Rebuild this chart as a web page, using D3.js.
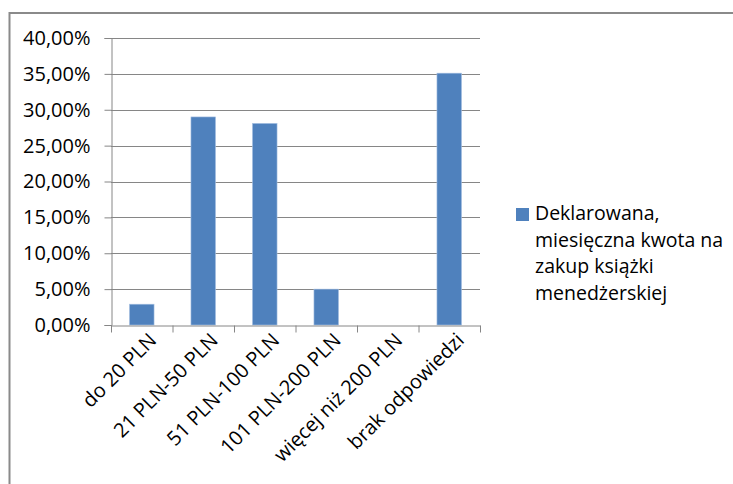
<!DOCTYPE html>
<html><head><meta charset="utf-8">
<script src="https://cdn.jsdelivr.net/npm/d3@7"></script>
<style>body{margin:0;background:#fff}svg{display:block}text{font-family:"Open Sans","Liberation Sans",sans-serif;fill:#000}</style>
</head><body>
<svg id="c" width="733" height="484"></svg>
<script>
const categories = ["do 20 PLN","21 PLN-50 PLN","51 PLN-100 PLN","101 PLN-200 PLN","więcej niż 200 PLN","brak odpowiedzi"];
const values = [0.029, 0.29, 0.281, 0.05, 0, 0.351];
const yTicks = [0,0.05,0.10,0.15,0.20,0.25,0.30,0.35,0.40];
const legendLines = ["Deklarowana,","miesięczna kwota na","zakup książki","menedżerskiej"];

const svg = d3.select("#c");
svg.append("path").attr("d","M9.5,484 L9.5,13 L733,13").attr("fill","none").attr("stroke","#8a8a8a").attr("stroke-width",2);

const x = d3.scaleBand().domain(categories).range([111,480]).paddingInner(0.6).paddingOuter(0.3);
const y = d3.scaleLinear().domain([0,0.40]).range([325,38]);
const fmt = v => d3.format(".2f")(v*100).replace(".",",")+"%";

svg.append("g").selectAll("line").data(yTicks.slice(1)).join("line")
  .attr("x1",111).attr("x2",480).attr("y1",d=>Math.round(y(d))+0.5).attr("y2",d=>Math.round(y(d))+0.5)
  .attr("stroke","#868686").attr("stroke-width",1);

svg.append("g").selectAll("rect").data(values).join("rect")
  .attr("x",(d,i)=>x(categories[i])).attr("width",x.bandwidth())
  .attr("y",d=>y(d)).attr("height",d=>y(0)-y(d))
  .attr("fill","#4f81bd").attr("stroke","#a9c2e3").attr("stroke-width",0.6);

const ya = svg.append("g").attr("transform","translate(111.5,0)")
  .call(d3.axisLeft(y).tickValues(yTicks).tickFormat(fmt).tickSize(7).tickPadding(14));
ya.select(".domain").attr("stroke","#868686");
ya.selectAll(".tick line").attr("stroke","#868686");
ya.selectAll("text").attr("font-size","20px").attr("font-family","'Open Sans',sans-serif");

const xa = svg.append("g").attr("transform","translate(0,325.5)")
  .call(d3.axisBottom(x).tickSize(0).tickSizeOuter(0));
xa.select(".domain").attr("stroke","#868686");
const step = x.step();
xa.selectAll(".tickmark").data(d3.range(categories.length+1)).join("line")
  .attr("x1",i=>111+i*step+0.5).attr("x2",i=>111+i*step+0.5).attr("y1",0).attr("y2",7)
  .attr("stroke","#868686");
xa.selectAll(".tick text").attr("font-size","20px").attr("font-family","'Open Sans',sans-serif")
  .attr("text-anchor","end").attr("transform","translate(4,4) rotate(-45)").attr("dy","0.7em").attr("dx","0");

const lg = svg.append("g");
lg.append("rect").attr("x",516).attr("y",208).attr("width",13).attr("height",13).attr("fill","#4f81bd");
lg.selectAll("text").data(legendLines).join("text")
  .attr("x",535).attr("y",(d,i)=>220+i*26.5).attr("font-size","19.5px").text(d=>d);
</script>
</body></html>
